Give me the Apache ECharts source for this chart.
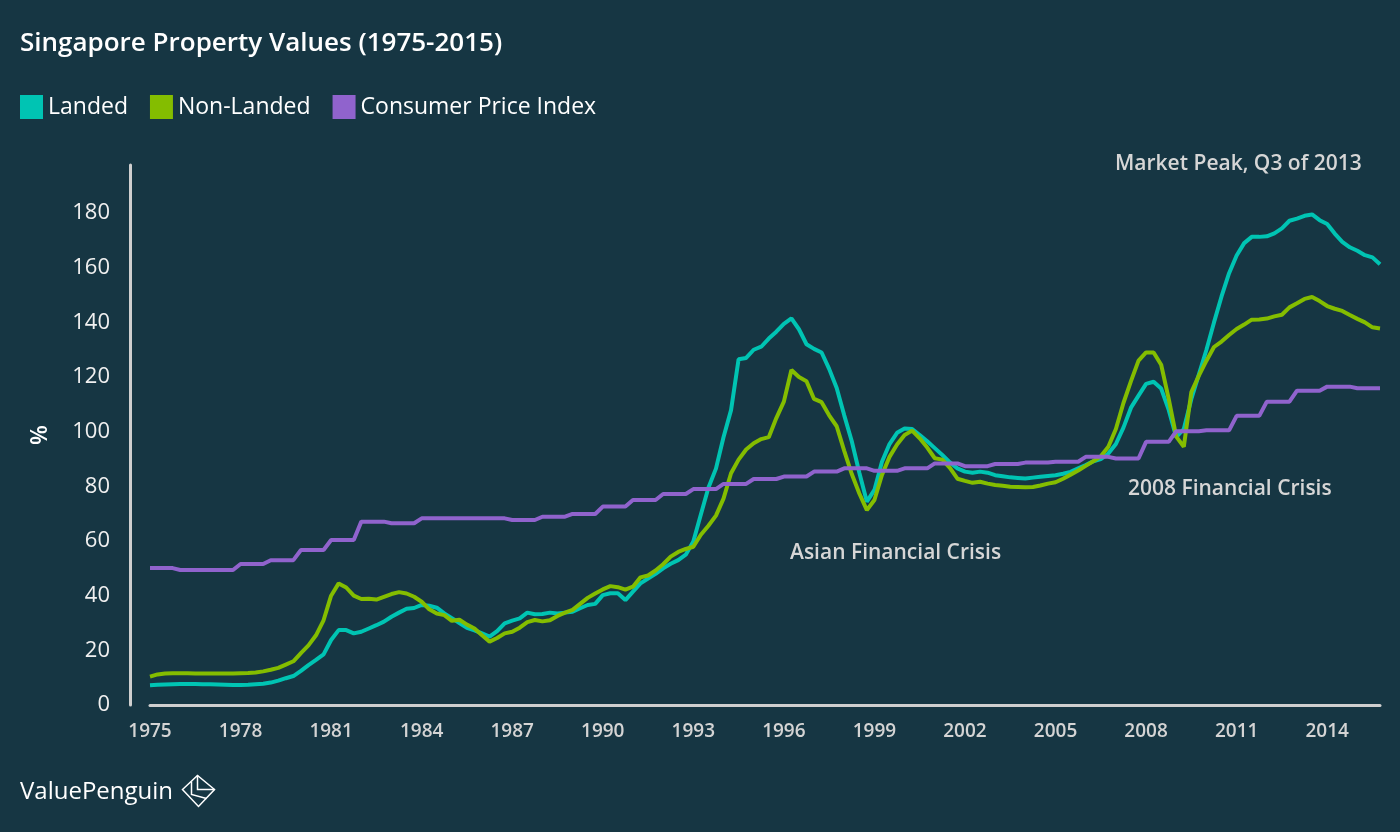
<!DOCTYPE html>
<html>
<head>
<meta charset="utf-8">
<script src="https://cdn.jsdelivr.net/npm/echarts@6/dist/echarts.min.js"></script>
<style>
html,body{margin:0;padding:0;background:#163643;}
#chart{width:1400px;height:832px;}
</style>
</head>
<body>
<div id="chart"></div>
<script>
const years = [];
for (let y = 1975; y <= 2015; y++) years.push(y);
const quarters = [];
years.forEach(y => { ['Q1','Q2','Q3','Q4'].forEach(q => quarters.push(y + ' ' + q)); });

const seriesNames = ['Landed', 'Non-Landed', 'Consumer Price Index'];

const landed = [
  7.2, 7.4, 7.5, 7.6, 7.7, 7.7, 7.7, 7.6, 7.6, 7.5,
  7.4, 7.3, 7.3, 7.4, 7.6, 7.8, 8.2, 8.9, 9.8, 10.6,
  12.5, 14.6, 16.5, 18.5, 23.8, 27.4, 27.4, 26.2, 26.8, 28.0,
  29.2, 30.5, 32.3, 33.8, 35.2, 35.5, 36.6, 36.3, 35.6, 33.5,
  31.8, 30.0, 28.2, 27.3, 26.2, 25.0, 27.0, 29.9, 30.9, 31.7,
  33.8, 33.2, 33.3, 33.8, 33.5, 33.8, 34.1, 35.4, 36.6, 37.0,
  40.2, 40.9, 40.9, 38.4, 41.5, 44.5, 46.3, 48.0, 50.0, 51.7,
  53.0, 55.0, 59.8, 69.7, 79.5, 86.5, 98.0, 107.9, 126.5, 127.0,
  130.0, 131.1, 134.1, 136.6, 139.5, 141.5, 137.5, 132.0, 130.3, 129.0,
  123.0, 116.0, 106.0, 96.5, 85.0, 74.4, 78.7, 89.0, 95.5, 99.6,
  101.2, 101.0, 98.8, 96.5, 94.0, 91.5, 88.8, 86.6, 85.4, 85.0,
  85.4, 85.0, 84.1, 83.7, 83.3, 83.1, 82.9, 83.2, 83.5, 83.8,
  84.1, 84.6, 85.3, 86.6, 87.8, 89.2, 90.0, 92.0, 95.5, 101.5,
  108.8, 113.2, 117.5, 118.3, 115.8, 108.0, 98.0, 101.0, 112.0, 121.0,
  130.0, 140.0, 149.5, 158.0, 164.5, 169.0, 171.3, 171.3, 171.5, 172.6,
  174.4, 177.2, 178.0, 179.0, 179.5, 177.4, 176.0, 172.5, 169.5, 167.5,
  166.2, 164.6, 163.8, 161.3
];

const nonLanded = [
  10.4, 11.2, 11.5, 11.6, 11.6, 11.6, 11.5, 11.5, 11.5, 11.5,
  11.5, 11.5, 11.6, 11.7, 11.9, 12.3, 12.9, 13.6, 14.8, 16.0,
  19.0, 21.8, 25.5, 31.0, 40.0, 44.5, 43.0, 40.0, 38.8, 38.9,
  38.6, 39.6, 40.6, 41.3, 40.8, 39.6, 37.8, 35.0, 33.5, 32.9,
  30.8, 31.2, 29.4, 28.0, 25.5, 23.2, 24.5, 26.2, 26.8, 28.3,
  30.3, 31.1, 30.6, 31.0, 32.6, 33.8, 34.8, 37.0, 39.2, 40.8,
  42.3, 43.5, 43.1, 42.2, 43.3, 46.7, 47.4, 49.2, 51.5, 54.3,
  56.0, 57.1, 57.9, 62.3, 65.6, 69.3, 75.5, 84.8, 89.8, 93.5,
  95.8, 97.3, 98.0, 105.0, 111.0, 122.6, 120.0, 118.5, 112.0, 110.8,
  106.0, 102.0, 93.0, 84.5, 77.4, 71.3, 75.0, 84.2, 90.8, 95.3,
  98.8, 100.4, 97.6, 94.2, 90.3, 89.8, 86.8, 82.8, 82.0, 81.3,
  81.7, 81.0, 80.5, 80.2, 79.9, 79.8, 79.7, 79.8, 80.3, 81.0,
  81.5, 82.8, 84.3, 85.8, 87.5, 89.2, 91.0, 94.5, 101.0, 110.5,
  118.5, 126.0, 129.0, 129.0, 124.5, 112.0, 98.2, 94.5, 114.5, 120.5,
  126.0, 131.0, 133.0, 135.4, 137.6, 139.2, 141.0, 141.1, 141.4, 142.2,
  142.8, 145.5, 147.0, 148.6, 149.3, 147.8, 146.0, 145.0, 144.2, 142.7,
  141.3, 140.0, 138.2, 137.8
];

const cpi = [
  50.1, 50.1, 50.1, 50.1, 49.4, 49.4, 49.4, 49.4, 49.4, 49.4,
  49.4, 49.4, 51.6, 51.6, 51.6, 51.6, 53.0, 53.0, 53.0, 53.0,
  56.7, 56.7, 56.7, 56.7, 60.4, 60.4, 60.4, 60.4, 67.1, 67.1,
  67.1, 67.1, 66.5, 66.5, 66.5, 66.5, 68.3, 68.3, 68.3, 68.3,
  68.3, 68.3, 68.3, 68.3, 68.3, 68.3, 68.3, 68.3, 67.7, 67.7,
  67.7, 67.7, 68.9, 68.9, 68.9, 68.9, 69.9, 69.9, 69.9, 69.9,
  72.6, 72.6, 72.6, 72.6, 75.0, 75.0, 75.0, 75.0, 77.2, 77.2,
  77.2, 77.2, 79.0, 79.0, 79.0, 79.0, 80.9, 80.9, 80.9, 80.9,
  82.7, 82.7, 82.7, 82.7, 83.6, 83.6, 83.6, 83.6, 85.4, 85.4,
  85.4, 85.4, 86.6, 86.6, 86.6, 86.6, 85.7, 85.7, 85.7, 85.7,
  86.6, 86.6, 86.6, 86.6, 88.4, 88.4, 88.4, 88.4, 87.4, 87.4,
  87.4, 87.4, 88.2, 88.2, 88.2, 88.2, 88.7, 88.7, 88.7, 88.7,
  89.0, 89.0, 89.0, 89.0, 90.8, 90.8, 90.8, 90.8, 90.2, 90.2,
  90.2, 90.2, 96.3, 96.3, 96.3, 96.3, 100.2, 100.2, 100.2, 100.2,
  100.5, 100.5, 100.5, 100.5, 105.8, 105.8, 105.8, 105.8, 111.0, 111.0,
  111.0, 111.0, 115.0, 115.0, 115.0, 115.0, 116.5, 116.5, 116.5, 116.5,
  115.9, 115.9, 115.9, 115.9
];

const colors = ['#00c4b3', '#84bd00', '#9063cd'];
const FONT = '"Open Sans", "Noto Sans", sans-serif';

const chart = echarts.init(document.getElementById('chart'), null, {renderer: 'canvas'});
chart.setOption({
  backgroundColor: '#163643',
  animation: false,
  color: colors,
  textStyle: {fontFamily: FONT},
  title: {
    text: 'Singapore Property Values (1975-2015)',
    left: 20, top: 31, padding: 0,
    textStyle: {color: '#ffffff', fontSize: 26, fontWeight: 600, fontFamily: FONT}
  },
  legend: {
    data: seriesNames,
    left: 20, top: 95, padding: 0,
    icon: 'rect',
    itemWidth: 23, itemHeight: 24, itemGap: 22,
    textStyle: {color: '#ffffff', fontSize: 23, fontFamily: FONT}
  },
  grid: {left: 150, right: 20, top: 165, bottom: 127, containLabel: false},
  xAxis: {
    type: 'category',
    data: quarters,
    boundaryGap: false,
    axisLine: {lineStyle: {color: '#cfcfcf', width: 3}},
    axisTick: {show: false},
    splitLine: {show: false},
    axisLabel: {
      interval: 11,
      margin: 17,
      color: '#d4d4d4',
      fontSize: 19,
      fontWeight: 600,
      fontFamily: FONT,
      formatter: v => v.slice(0, 4)
    }
  },
  yAxis: {
    type: 'value',
    min: 0, max: 197.6, interval: 20,
    offset: 20,
    name: '%',
    nameLocation: 'middle',
    nameRotate: 90,
    nameGap: 78,
    nameTextStyle: {color: '#ffffff', fontSize: 23, fontWeight: 600, fontFamily: FONT},
    axisLine: {show: true, lineStyle: {color: '#cfcfcf', width: 3}},
    axisTick: {show: false},
    splitLine: {show: false},
    axisLabel: {
      showMaxLabel: false,
      margin: 20,
      color: '#f0f0f0',
      fontSize: 22,
      fontFamily: FONT
    }
  },
  series: [
    {name: seriesNames[0], type: 'line', data: landed, showSymbol: false, lineStyle: {width: 4, color: colors[0]}, itemStyle: {color: colors[0]}, z: 3},
    {name: seriesNames[1], type: 'line', data: nonLanded, showSymbol: false, lineStyle: {width: 4, color: colors[1]}, itemStyle: {color: colors[1]}, z: 4},
    {name: seriesNames[2], type: 'line', data: cpi, showSymbol: false, lineStyle: {width: 4, color: colors[2]}, itemStyle: {color: colors[2]}, z: 5}
  ],
  graphic: [
    {type: 'text', left: 1115, top: 154, style: {text: 'Market Peak, Q3 of 2013', fill: '#d6d6d6', font: '600 21px ' + FONT}},
    {type: 'text', left: 1128, top: 479, style: {text: '2008 Financial Crisis', fill: '#d6d6d6', font: '600 21px ' + FONT}},
    {type: 'text', left: 790, top: 543, style: {text: 'Asian Financial Crisis', fill: '#d6d6d6', font: '600 21px ' + FONT}},
    {type: 'text', left: 20, top: 780, style: {text: 'ValuePenguin', fill: '#ffffff', font: '500 24px ' + FONT}},
    {type: 'group', left: 180, top: 773, children: [
      {type: 'polygon', shape: {points: [[1, 15], [16, 1], [33, 15], [17, 32]]}, style: {fill: 'none', stroke: '#ffffff', lineWidth: 1.5}},
      {type: 'polyline', shape: {points: [[16, 1], [16, 15], [33, 15]]}, style: {fill: 'none', stroke: '#ffffff', lineWidth: 1.5}},
      {type: 'polyline', shape: {points: [[10, 7], [10, 20], [25, 24]]}, style: {fill: 'none', stroke: '#ffffff', lineWidth: 1.5}}
    ]}
  ]
});
</script>
</body>
</html>
